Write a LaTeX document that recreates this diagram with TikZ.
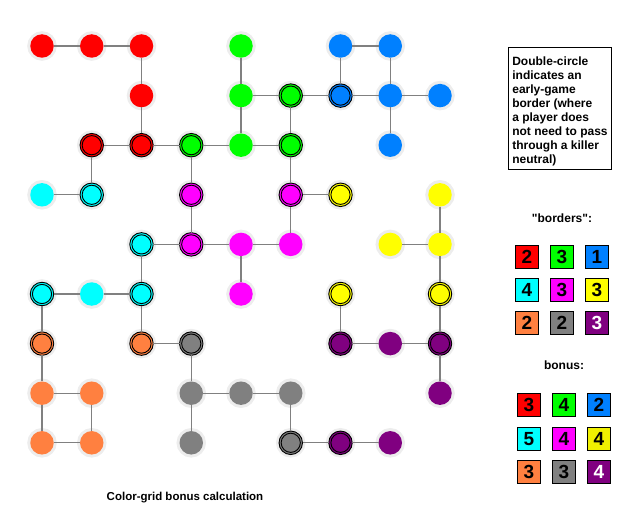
\documentclass[tikz,border=0pt]{standalone}
\usepackage{fontspec}
\setmainfont{Liberation Sans}
\newfontfamily\qfont{Liberation Sans}
\definecolor{cred}{HTML}{FF0000}
\definecolor{cgreen}{HTML}{00FF00}
\definecolor{cblue}{HTML}{0080FF}
\definecolor{ccyan}{HTML}{00FFFF}
\definecolor{cmag}{HTML}{FF00FF}
\definecolor{cyel}{HTML}{FFFF00}
\definecolor{cyelb}{HTML}{F0F000}
\definecolor{corange}{HTML}{FF8040}
\definecolor{cgray}{HTML}{808080}
\definecolor{cpurple}{HTML}{800080}
\definecolor{halo}{HTML}{EDEDED}
\definecolor{edgecol}{HTML}{808080}
\newcommand\gn[4]{\node[#4=#3] (n#1#2) at ({42+49.75*(#1-1)},{46+49.6*(#2-1)}) {};}
\begin{document}
\begin{tikzpicture}[x=1pt,y=-1pt,
  dot/.style={circle, minimum size=23.5pt, inner sep=0pt, outer sep=0pt, fill=#1,
    preaction={draw=halo, line width=6pt}},
  dbl/.style={dot=#1, draw=black, line width=0.9pt,
    path picture={\draw[black, line width=0.9pt] (path picture bounding box.center) circle (9.6pt);}},
  edge/.style={draw=edgecol, line width=1.3pt},
  sq/.style={draw=black, line width=1.1pt, fill=#1, minimum size=23pt, inner sep=0pt,
    font=\fontsize{19}{19}\selectfont\bfseries},
  ttl/.style={font=\fontsize{12}{14}\selectfont\bfseries}
]
\useasboundingbox (0,0) rectangle (638,524);
% red
\gn11{cred}{dot}\gn21{cred}{dot}\gn31{cred}{dot}\gn32{cred}{dot}\gn23{cred}{dbl}\gn33{cred}{dbl}
% green
\gn51{cgreen}{dot}\gn52{cgreen}{dot}\gn62{cgreen}{dbl}\gn53{cgreen}{dot}\gn63{cgreen}{dbl}\gn43{cgreen}{dbl}
% blue
\gn71{cblue}{dot}\gn81{cblue}{dot}\gn72{cblue}{dbl}\gn82{cblue}{dot}\gn92{cblue}{dot}\gn83{cblue}{dot}
% cyan
\gn14{ccyan}{dot}\gn24{ccyan}{dbl}\gn35{ccyan}{dbl}\gn16{ccyan}{dbl}\gn26{ccyan}{dot}\gn36{ccyan}{dbl}
% magenta
\gn44{cmag}{dbl}\gn64{cmag}{dbl}\gn45{cmag}{dbl}\gn55{cmag}{dot}\gn65{cmag}{dot}\gn56{cmag}{dot}
% yellow
\gn74{cyel}{dbl}\gn94{cyel}{dot}\gn85{cyel}{dot}\gn95{cyel}{dot}\gn76{cyel}{dbl}\gn96{cyel}{dbl}
% orange
\gn17{corange}{dbl}\gn37{corange}{dbl}\gn18{corange}{dot}\gn28{corange}{dot}\gn19{corange}{dot}\gn29{corange}{dot}
% gray
\gn47{cgray}{dbl}\gn48{cgray}{dot}\gn58{cgray}{dot}\gn68{cgray}{dot}\gn49{cgray}{dot}\gn69{cgray}{dbl}
% purple
\gn77{cpurple}{dbl}\gn87{cpurple}{dot}\gn97{cpurple}{dbl}\gn98{cpurple}{dot}\gn79{cpurple}{dbl}\gn89{cpurple}{dot}
% edges
\foreach \a/\b in {11/21,21/31,31/32,32/33,23/33,33/43,23/24,
  51/52,52/62,52/53,62/63,53/63,43/53,62/72,63/64,43/44,
  71/81,71/72,81/82,72/82,82/92,82/83,
  14/24,35/45,35/36,16/26,26/36,16/17,36/37,
  44/45,45/55,55/65,55/56,64/65,64/74,
  94/95,85/95,95/96,76/77,96/97,
  17/18,18/28,28/29,18/19,19/29,37/47,
  47/48,48/58,58/68,48/49,68/69,69/79,
  77/87,87/97,97/98,79/89}
  \draw[edge] (n\a) -- (n\b);
% info box
\node[draw=black, line width=1pt, anchor=north west, minimum width=103pt,
  align=left, inner xsep=3pt, inner ysep=0pt,
  font=\fontsize{12}{14}\selectfont\bfseries] (info) at (508,47)
  {\rule{0pt}{18pt}Double-circle\\indicates an\\early-game\\border (where\\a player does\\not need to pass\\through a killer\\neutral)\rule[-6pt]{0pt}{6pt}};
% borders
\node[font=\qfont\fontsize{12}{14}\selectfont\bfseries] (bt) at (562,218) {"borders":};
\node[sq=cred] (b1) at (527,257) {2};
\node[sq=cgreen] (b2) at (562,257) {3};
\node[sq=cblue] (b3) at (597,257) {1};
\node[sq=ccyan] (b4) at (527,290) {4};
\node[sq=cmag] (b5) at (562,290) {3};
\node[sq=cyel] (b6) at (597,290) {3};
\node[sq=corange] (b7) at (527,323) {2};
\node[sq=cgray] (b8) at (562,323) {2};
\node[sq=cpurple, text=white] (b9) at (597,323) {3};
% bonus
\node[ttl] (ct) at (564,365) {bonus:};
\node[sq=cred] (c1) at (529,405) {3};
\node[sq=cgreen] (c2) at (564,405) {4};
\node[sq=cblue] (c3) at (599,405) {2};
\node[sq=ccyan] (c4) at (529,439) {5};
\node[sq=cmag] (c5) at (564,439) {4};
\node[sq=cyelb] (c6) at (599,439) {4};
\node[sq=corange] (c7) at (529,472) {3};
\node[sq=cgray] (c8) at (564,472) {3};
\node[sq=cpurple, text=white] (c9) at (599,472) {4};
% caption
\node[font=\fontsize{11.5}{14}\selectfont\bfseries] (cap) at (185,498) {Color-grid bonus calculation};
\end{tikzpicture}
\end{document}
